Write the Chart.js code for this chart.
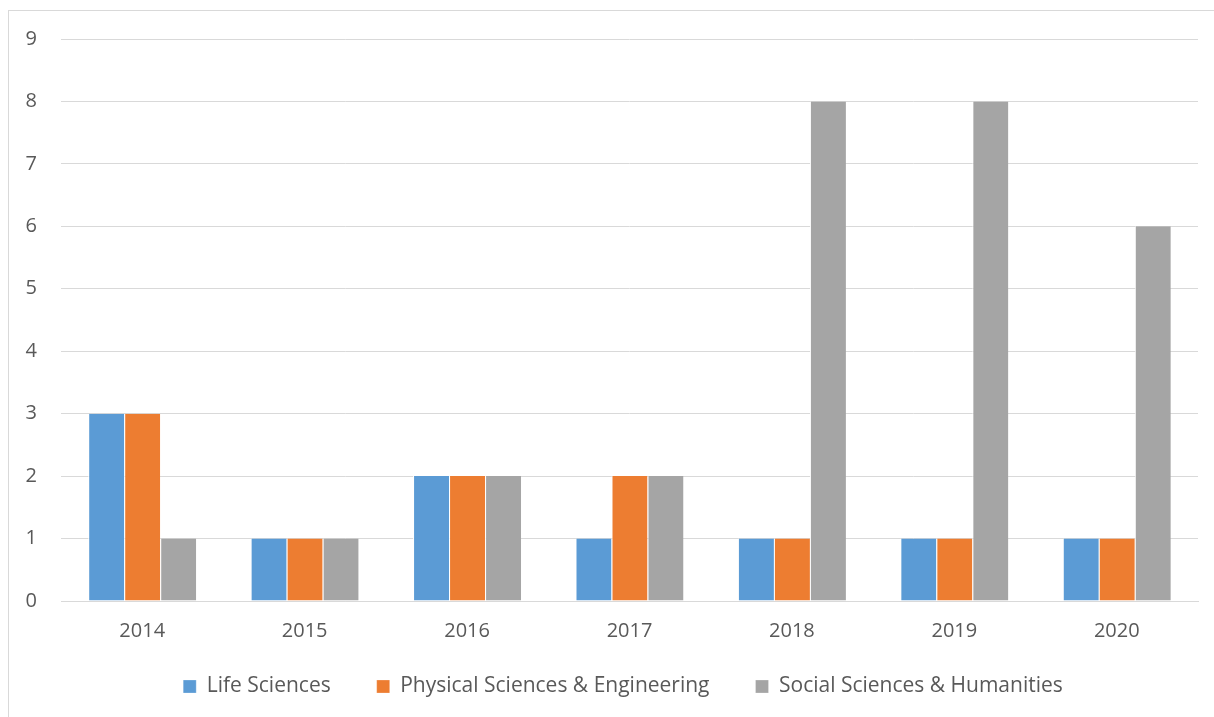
<!DOCTYPE html>
<html>
<head>
<meta charset="utf-8">
<script src="https://cdn.jsdelivr.net/npm/chart.js@4/dist/chart.umd.min.js"></script>
<style>
  html, body { margin: 0; padding: 0; background: #fff; overflow: hidden; }
  #frame { position: absolute; left: 8px; top: 10px; width: 1300px; height: 800px; border: 1px solid #d9d9d9; }
  #chart { position: absolute; left: 0; top: 0; }
</style>
</head>
<body>
<div id="frame"></div>
<canvas id="chart" width="1214" height="717"></canvas>
<script>
// chart values
var years = ["2014", "2015", "2016", "2017", "2018", "2019", "2020"];
var lifeSciences = [3, 1, 2, 1, 1, 1, 1];
var physicalSciences = [3, 1, 2, 2, 1, 1, 1];
var socialSciences = [1, 1, 2, 2, 8, 8, 6];
var seriesNames = ["Life Sciences", "Physical Sciences & Engineering", "Social Sciences & Humanities"];
var seriesColors = ["#5b9bd5", "#ed7d31", "#a5a5a5"];

var textColor = "#595959";
var gridColor = "#d9d9d9";
var fontFamily = "'Open Sans', sans-serif";

function makeSet(i, values) {
  return {
    label: seriesNames[i],
    data: values,
    backgroundColor: seriesColors[i],
    borderColor: "#ffffff",
    borderWidth: { left: 1, right: 0, top: 0, bottom: 0 },
    categoryPercentage: 0.665,
    barPercentage: 1.0
  };
}

// legend in the original sits a bit right of centre
var shiftLegend = {
  id: "shiftLegend",
  afterLayout: function(chart) {
    if (chart.legend) chart.legend.left += 48;
  }
};

var ctx = document.getElementById("chart").getContext("2d");
var chart = new Chart(ctx, {
  type: "bar",
  data: {
    labels: years,
    datasets: [
      makeSet(0, lifeSciences),
      makeSet(1, physicalSciences),
      makeSet(2, socialSciences)
    ]
  },
  plugins: [shiftLegend],
  options: {
    responsive: false,
    animation: false,
    devicePixelRatio: 1,
    layout: { padding: { left: 0, right: 16, top: 39, bottom: 10 } },
    scales: {
      x: {
        grid: { display: false, drawTicks: false },
        border: { display: true, color: gridColor, width: 1 },
        ticks: { color: textColor, font: { family: fontFamily, size: 20 }, padding: 18, maxRotation: 0 },
        afterFit: function(scale) {
          // keep the box short so the legend sits where it should, and don't clip labels to it
          scale.height = 29;
          scale._computeLabelArea = function() { return undefined; };
        }
      },
      y: {
        min: 0,
        max: 9,
        grid: { color: gridColor, lineWidth: 1, drawTicks: false },
        border: { display: false },
        ticks: { stepSize: 1, color: textColor, font: { family: fontFamily, size: 20 }, padding: 24 },
        afterFit: function(scale) { scale.width = 61; }
      }
    },
    plugins: {
      legend: {
        position: "bottom",
        labels: {
          color: textColor,
          font: { family: fontFamily, size: 21 },
          boxWidth: 13,
          boxHeight: 13,
          padding: 46
        }
      },
      tooltip: { enabled: false }
    }
  }
});
</script>
</body>
</html>
